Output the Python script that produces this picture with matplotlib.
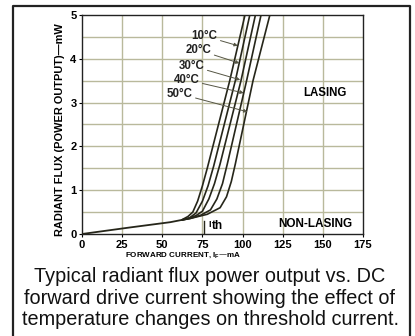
import matplotlib
matplotlib.use("Agg")
import matplotlib.pyplot as plt
from matplotlib.lines import Line2D

# ---- data ----
temps = ["10°C", "20°C", "30°C", "40°C", "50°C"]
sub_I = [0, 30, 55]
sub_P = [0, 0.15, 0.27]
c10_I = [62, 66, 69, 72, 75, 78, 92, 101.5]
c10_P = [0.32, 0.40, 0.50, 0.75, 1.10, 1.50, 3.50, 5.0]
c20_I = [62, 67, 71, 75, 78.5, 82, 95.5, 104.5]
c20_P = [0.32, 0.37, 0.48, 0.75, 1.10, 1.55, 3.50, 5.0]
c30_I = [62, 65, 71, 75, 79, 82.5, 86, 99, 108]
c30_P = [0.32, 0.34, 0.42, 0.52, 0.80, 1.15, 1.60, 3.50, 5.0]
c40_I = [62, 67, 74, 80, 84, 87.5, 90.5, 102.5, 111.5]
c40_P = [0.32, 0.35, 0.43, 0.55, 0.80, 1.15, 1.60, 3.50, 5.0]
c50_I = [62, 68, 78, 86, 90, 93, 95.5, 106.5, 117]
c50_P = [0.32, 0.36, 0.45, 0.60, 0.85, 1.20, 1.60, 3.50, 5.0]
curves_I = [c10_I, c20_I, c30_I, c40_I, c50_I]
curves_P = [c10_P, c20_P, c30_P, c40_P, c50_P]
label_xy = [(84.5, 4.52), (80.7, 4.2), (76.4, 3.84), (73.3, 3.52), (69.0, 3.2)]
arrow_xy = [(97.0, 4.3), (98.0, 3.9), (98.5, 3.52), (100.7, 3.22), (103.0, 2.79)]
x_ticks = [0, 25, 50, 75, 100, 125, 150, 175]
y_ticks = [0, 1, 2, 3, 4, 5]
ith_I = 76
caption = ("Typical radiant flux power output vs. DC\n"
           "forward drive current showing the effect of\n"
           "temperature changes on threshold current.")

plt.rcParams['font.family'] = ['Liberation Sans', 'DejaVu Sans']

W, H = 415, 336
fig = plt.figure(figsize=(W / 100, H / 100), dpi=100)
fig.patch.set_facecolor('white')

# outer frame (left, top, right; open at the bottom)
fx0, fx1, fy0 = 12.5 / W, 410 / W, 1 - 5.5 / H
fig.add_artist(Line2D([fx0, fx0, fx1, fx1], [0, fy0, fy0, 0],
                      transform=fig.transFigure, color='#222222', lw=1.6))

ax = fig.add_axes([82 / W, 1 - 234 / H, (363 - 82) / W, (234 - 15) / H])
ax.set_xlim(0, 175)
ax.set_ylim(0, 5)

gcol = '#b9b99c'
for xv in x_ticks[1:-1]:
    ax.axvline(xv, color=gcol, lw=1.0, zorder=1)
for k in range(1, 10):
    ax.axhline(k * 0.5, color=gcol, lw=1.0, zorder=1)

lc = '#26261a'
ax.plot(sub_I + [62], sub_P + [0.32], color=lc, lw=1.3, zorder=3)
for I, P in zip(curves_I, curves_P):
    ax.plot(I, P, color=lc, lw=1.2, zorder=3, solid_capstyle='butt')

for t, (lx, ly), (axx, ayy) in zip(temps, label_xy, arrow_xy):
    ax.annotate(t, xy=(axx, ayy), xytext=(lx, ly), ha='right', va='center',
                fontsize=8.3, fontweight='bold', color='#222222',
                arrowprops=dict(arrowstyle='-|>', color='#555544', lw=0.7,
                                mutation_scale=5, shrinkA=0, shrinkB=0),
                zorder=4)

ax.plot([ith_I, ith_I], [0, 0.3], color=lc, lw=1.0, zorder=3)
ax.text(ith_I + 3, 0.12, 'I', fontsize=6.5, fontweight='bold', va='bottom')
ax.text(ith_I + 5, 0.05, 'th', fontsize=8.5, fontweight='bold', va='bottom')

ax.text(151, 3.22, 'LASING', fontsize=8.3, fontweight='bold', ha='center', va='center')
ax.text(145, 0.22, 'NON-LASING', fontsize=8.5, fontweight='bold', ha='center', va='center')

ax.set_xticks(x_ticks)
ax.set_yticks(y_ticks)
ax.tick_params(axis='both', length=2, width=0.8, labelsize=8, pad=2)
for lab in ax.get_xticklabels() + ax.get_yticklabels():
    lab.set_fontweight('bold')
for s in ax.spines.values():
    s.set_linewidth(1.0)
    s.set_color('#222222')

fig.text(60 / W, 1 - 130 / H, 'RADIANT FLUX (POWER OUTPUT)—mW', rotation=90,
         ha='center', va='center', fontsize=7.9, fontweight='bold')
fig.text(183 / W, 1 - 255 / H, 'FORWARD CURRENT, I$_\\mathregular{F}$—mA',
         ha='center', va='center', fontsize=5.8, fontweight='bold')

fig.text(210 / W, 1 - 298 / H, caption, ha='center', va='center',
         fontsize=14.3, linespacing=1.15, color='#111111')

fig.savefig('out.png', dpi=100, facecolor='white')
